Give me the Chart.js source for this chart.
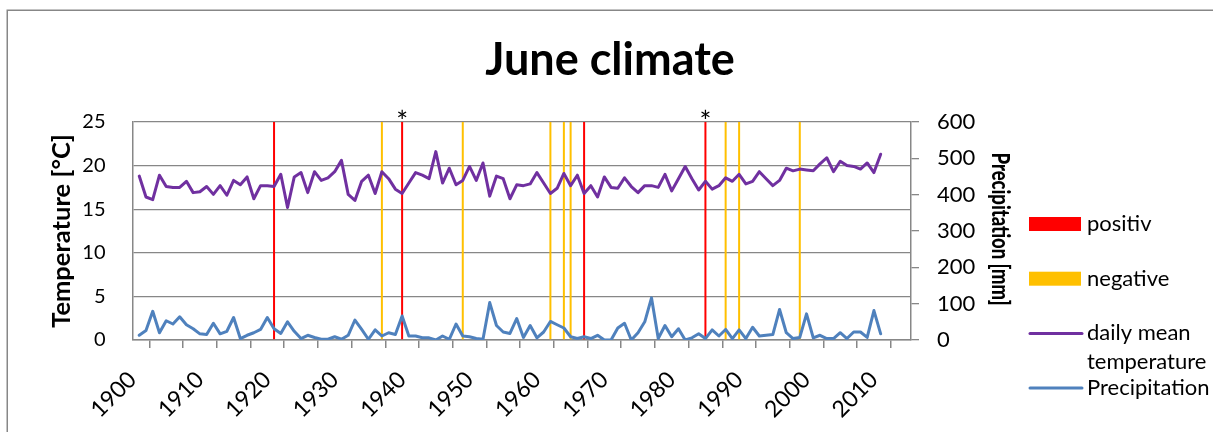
<!DOCTYPE html>
<html>
<head>
<meta charset="utf-8">
<title>June climate</title>
<script src="https://cdn.jsdelivr.net/npm/chart.js@4/dist/chart.umd.min.js"></script>
<style>
  html, body { margin: 0; padding: 0; background: #fff; }
  #wrap { width: 1213px; height: 432px; position: relative; }
  canvas { display: block; }
</style>
</head>
<body>
<div id="wrap"><canvas id="climate" width="1213" height="432"></canvas></div>
<script>
// ---- data ----
const chartTitle = 'June climate';
const firstYear = 1901;

// June daily mean temperature [°C], 1901–2011
const temperature = [
  18.8, 16.4, 16.1, 18.9, 17.6, 17.5, 17.5, 18.2, 16.9, 17.0,
  17.6, 16.7, 17.7, 16.6, 18.3, 17.8, 18.7, 16.2, 17.7, 17.7,
  17.6, 19.0, 15.2, 18.7, 19.2, 16.9, 19.3, 18.3, 18.6, 19.3,
  20.6, 16.7, 16.0, 18.2, 18.9, 16.8, 19.3, 18.5, 17.3, 16.8,
  18.0, 19.2, 18.9, 18.5, 21.6, 18.0, 19.7, 17.8, 18.3, 19.9,
  18.3, 20.3, 16.5, 18.8, 18.5, 16.2, 17.8, 17.7, 17.9, 19.2,
  18.0, 16.8, 17.4, 19.1, 17.7, 18.9, 16.8, 17.7, 16.4, 18.7,
  17.5, 17.4, 18.6, 17.6, 16.9, 17.7, 17.7, 17.5, 19.0, 17.1,
  18.5, 19.9, 18.5, 17.2, 18.2, 17.3, 17.7, 18.6, 18.2, 19.0,
  17.9, 18.2, 19.3, 18.5, 17.7, 18.3, 19.7, 19.4, 19.6, 19.5,
  19.4, 20.2, 20.9, 19.3, 20.5, 20.0, 19.9, 19.6, 20.3, 19.2,
  21.3
];

// June precipitation [mm], 1901–2011
const precipitation = [
  13, 26, 79, 20, 53, 44, 64, 42, 31, 17,
  15, 46, 17, 24, 62, 4, 13, 20, 29, 62,
  31, 18, 50, 24, 4, 13, 7, 2, 2, 9,
  2, 13, 55, 29, 2, 28, 11, 20, 15, 66,
  11, 11, 6, 6, 0, 11, 2, 44, 11, 9,
  4, 2, 103, 40, 22, 18, 59, 7, 40, 6,
  22, 51, 42, 33, 9, 4, 9, 4, 13, 0,
  0, 33, 46, 0, 20, 50, 116, 4, 40, 9,
  31, 0, 6, 17, 4, 28, 11, 29, 4, 28,
  4, 35, 11, 13, 15, 84, 20, 4, 7, 72,
  6, 13, 4, 4, 20, 4, 22, 22, 7, 81,
  17
];

// years marked as positive / negative events (drawn as full-height bars)
const positivYears = [1921, 1940, 1967, 1985];
const negativeYears = [1937, 1949, 1962, 1964, 1965, 1988, 1990, 1999];
const eventHeight = 25;               // top of the temperature axis
const starredYears = [1940, 1985];

// tick labels and axis titles
const yearLabels = ['1900', '1910', '1920', '1930', '1940', '1950', '1960', '1970', '1980', '1990', '2000', '2010'];
const tempTicks = [0, 5, 10, 15, 20, 25];
const precTicks = [0, 100, 200, 300, 400, 500, 600];
const tempTitle = 'Temperature [°C]';
const precTitle = 'Precipitation [mm]';

// ---- styling ----
const FONT = 'Lato';
const GRID = '#878787';
const COLORS = {
  positiv: '#FF0000',
  negative: '#FFC000',
  temp: '#7030A0',
  prec: '#4F81BD'
};

// frame, title, right axis title, asterisks and legend
const decorations = {
  id: 'decorations',
  beforeDraw(chart) {
    const ctx = chart.ctx;
    ctx.save();
    ctx.strokeStyle = GRID;
    ctx.lineWidth = 1.5;
    ctx.strokeRect(7.25, 10.25, 1400, 600);
    ctx.restore();
  },
  afterDraw(chart) {
    const { ctx, chartArea, scales } = chart;
    ctx.save();
    ctx.fillStyle = '#000';

    // chart title
    ctx.font = `bold 45px ${FONT}`;
    ctx.textAlign = 'center';
    ctx.textBaseline = 'middle';
    ctx.fillText(chartTitle, 610, 60);

    // right axis title: rotated clockwise, condensed along the text
    const y2 = scales.y2;
    ctx.save();
    ctx.font = `900 24px ${FONT}`;
    const natural = ctx.measureText(precTitle).width;
    ctx.translate(y2.left + 89, (y2.top + y2.bottom) / 2 - 2);
    ctx.rotate(Math.PI / 2);
    ctx.scale(153 / natural, 1);
    ctx.fillText(precTitle, 0, 0);
    ctx.restore();

    // asterisks over the starred events
    ctx.font = `28px ${FONT}`;
    ctx.textAlign = 'center';
    ctx.textBaseline = 'alphabetic';
    starredYears.forEach(yr => {
      ctx.fillText('*', scales.x.getPixelForValue(yr), chartArea.top + 10);
    });

    // legend
    const boxX = 1029, boxW = 52, textX = 1087, rowStep = 54.7, lineGap = 29, maxTextW = 124;
    let rowY = 224;
    ctx.font = `22px ${FONT}`;
    ctx.textAlign = 'left';
    ctx.textBaseline = 'middle';
    chart.data.datasets.forEach(ds => {
      if (ds.type === 'bar') {
        ctx.fillStyle = ds.backgroundColor;
        ctx.fillRect(boxX, rowY - 7, boxW, 14);
      } else {
        ctx.strokeStyle = ds.borderColor;
        ctx.lineWidth = 3;
        ctx.lineCap = 'round';
        ctx.beginPath();
        ctx.moveTo(boxX + 1, rowY);
        ctx.lineTo(boxX + boxW + 1, rowY);
        ctx.stroke();
      }
      // wrap the label into lines that fit the legend column
      const words = ds.label.split(' ');
      const lines = [];
      let cur = '';
      words.forEach(w => {
        const test = cur ? cur + ' ' + w : w;
        if (cur && ctx.measureText(test).width > maxTextW) {
          lines.push(cur);
          cur = w;
        } else {
          cur = test;
        }
      });
      if (cur) lines.push(cur);
      ctx.fillStyle = '#000';
      lines.forEach((ln, i) => ctx.fillText(ln, textX, rowY + i * lineGap));
      rowY += rowStep;
    });
    ctx.restore();
  }
};

function draw() {
  Chart.defaults.font.family = FONT;
  Chart.defaults.color = '#000';

  new Chart(document.getElementById('climate'), {
    type: 'line',
    data: {
      datasets: [
        {
          type: 'bar',
          label: 'positiv',
          data: positivYears.map(yr => ({ x: yr, y: eventHeight })),
          backgroundColor: COLORS.positiv,
          borderWidth: 0,
          grouped: false,
          maxBarThickness: 2,
          yAxisID: 'y',
          order: 3
        },
        {
          type: 'bar',
          label: 'negative',
          data: negativeYears.map(yr => ({ x: yr, y: eventHeight })),
          backgroundColor: COLORS.negative,
          borderWidth: 0,
          grouped: false,
          maxBarThickness: 2,
          yAxisID: 'y',
          order: 2
        },
        {
          type: 'line',
          label: 'daily mean temperature',
          data: temperature.map((v, i) => ({ x: firstYear + i, y: v })),
          borderColor: COLORS.temp,
          borderWidth: 3,
          borderJoinStyle: 'round',
          borderCapStyle: 'round',
          pointRadius: 0,
          tension: 0,
          fill: false,
          yAxisID: 'y',
          order: 1
        },
        {
          type: 'line',
          label: 'Precipitation',
          data: precipitation.map((v, i) => ({ x: firstYear + i, y: v })),
          borderColor: COLORS.prec,
          borderWidth: 3,
          borderJoinStyle: 'round',
          borderCapStyle: 'round',
          pointRadius: 0,
          tension: 0,
          fill: false,
          yAxisID: 'y2',
          order: 0
        }
      ]
    },
    options: {
      responsive: false,
      animation: false,
      events: [],
      layout: { padding: { left: 0, top: 122, right: 201, bottom: 0 } },
      plugins: {
        legend: { display: false },
        tooltip: { enabled: false },
        title: { display: false }
      },
      scales: {
        x: {
          type: 'linear',
          min: 1900,
          max: 2015.5,
          offset: false,
          ticks: {
            stepSize: 5,
            includeBounds: false,
            autoSkip: false,
            minRotation: 45,
            maxRotation: 45,
            padding: 18,
            font: { size: 23 },
            color: '#000',
            callback: v => (yearLabels.includes(String(v)) ? String(v) : '')
          },
          grid: { drawOnChartArea: false, drawTicks: true, tickLength: 8, color: GRID, lineWidth: 1.5 },
          border: { color: GRID, width: 1.5 },
          afterFit(scale) { scale.height = 92; }
        },
        y: {
          position: 'left',
          min: 0,
          max: 25,
          afterBuildTicks(scale) { scale.ticks = tempTicks.map(v => ({ value: v })); },
          ticks: { padding: 27, font: { size: 20 }, color: '#000' },
          grid: { color: GRID, lineWidth: 1.3, drawTicks: false },
          border: { color: GRID, width: 1.5 },
          title: {
            display: true,
            text: tempTitle,
            color: '#000',
            font: { size: 25.5, weight: 'bold' },
            padding: { top: 46, bottom: 0 }
          },
          afterFit(scale) { scale.width = 132.5; }
        },
        y2: {
          position: 'right',
          min: 0,
          max: 600,
          afterBuildTicks(scale) { scale.ticks = precTicks.map(v => ({ value: v })); },
          ticks: { padding: 18, font: { size: 22 }, color: '#000' },
          grid: { drawOnChartArea: false, drawTicks: true, tickLength: 8, color: GRID, lineWidth: 1.3 },
          border: { color: GRID, width: 1.5 },
          title: { display: false },
          afterFit(scale) { scale.width = 101; }
        }
      }
    },
    plugins: [decorations]
  });
}

const fontLoads = [`20px ${FONT}`, `bold 45px ${FONT}`, `900 24px ${FONT}`]
  .map(f => document.fonts.load(f).catch(() => null));
Promise.all(fontLoads).then(draw, draw);
</script>
</body>
</html>
